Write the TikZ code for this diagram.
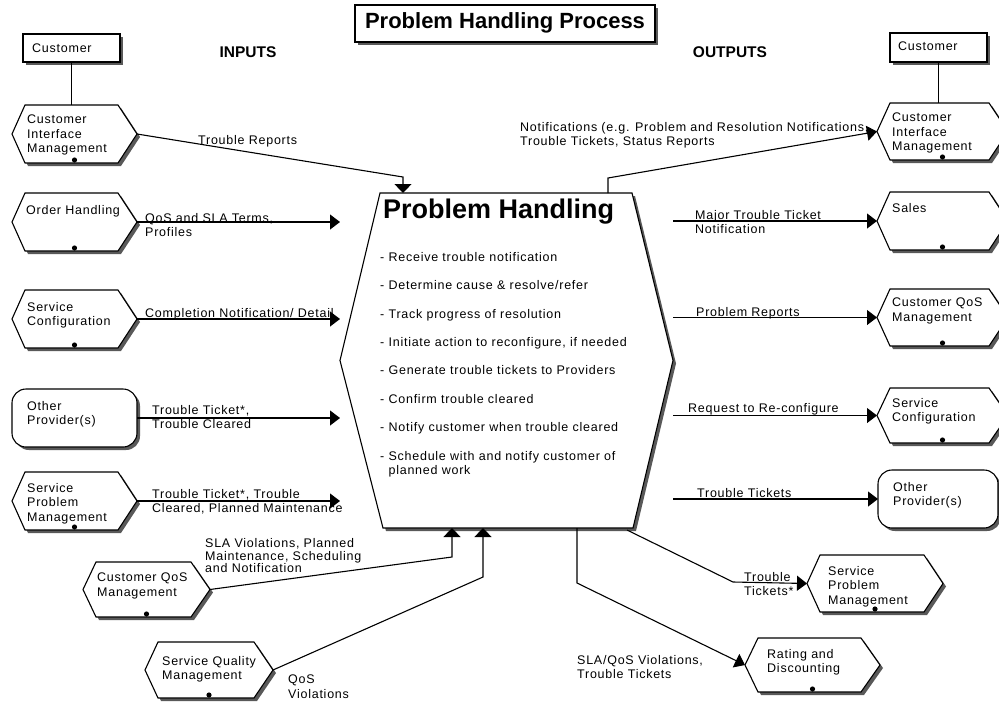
\documentclass[tikz,border=0pt]{standalone}
\usepackage{fontspec}
\setmainfont{Liberation Sans}[LetterSpace=6]
\newfontfamily\hdfont{Liberation Sans}
\usetikzlibrary{arrows.meta}
\tikzset{
  lbl/.style={inner sep=0pt, anchor=north west, align=left, font=\fontsize{12.5}{14.5}\selectfont},
  shp/.style={draw=none, inner sep=0pt, outer sep=0pt, rectangle},
  conn/.style={line width=1.1pt},
  arr/.style={line width=1.1pt, -{Triangle[length=10pt,width=15pt]}},
  arrv/.style={line width=1.1pt, -{Triangle[length=9pt,width=17pt]}},
  outl/.style={draw=black, line width=1.1pt, fill=white, line join=miter},
  shadowfill/.style={fill=black!65},
}
\newcommand\hexbox[8]{%
  \node[shp, minimum width={#4-#2}, minimum height={#5-#3}] (#1) at ({(#2+#4)/2},{(#3+#5)/2}) {};
  \fill[shadowfill] ([shift={(3,3)}]#1.west) -- ([shift={(16,3)}]#1.north west) -- ([shift={(-16,3)}]#1.north east) -- ([shift={(3,3)}]#1.east) -- ([shift={(-16,3)}]#1.south east) -- ([shift={(16,3)}]#1.south west) -- cycle;
  \draw[outl] (#1.west) -- ([xshift=13pt]#1.north west) -- ([xshift=-19pt]#1.north east) -- (#1.east) -- ([xshift=-19pt]#1.south east) -- ([xshift=13pt]#1.south west) -- cycle;
  \node[lbl] (#1-t) at ([shift={(#6,#7)}]#1.north west) {#8};
  \fill ([yshift=3pt]#1.south) circle (2.6);
}
\newcommand\rndbox[8]{%
  \node[shp, minimum width={#4-#2}, minimum height={#5-#3}] (#1) at ({(#2+#4)/2},{(#3+#5)/2}) {};
  \fill[shadowfill, rounded corners=14pt] ([shift={(3,3)}]#1.north west) rectangle ([shift={(3,3)}]#1.south east);
  \draw[outl, rounded corners=14pt] (#1.north west) rectangle (#1.south east);
  \node[lbl] (#1-t) at ([shift={(#6,#7)}]#1.north west) {#8};
}
\newcommand\custbox[8]{%
  \node[shp, minimum width={#4-#2}, minimum height={#5-#3}] (#1) at ({(#2+#4)/2},{(#3+#5)/2}) {};
  \fill[shadowfill] ([shift={(3,3)}]#1.north west) rectangle ([shift={(3,3)}]#1.south east);
  \draw[outl] (#1.north west) rectangle (#1.south east);
  \node[lbl] (#1-t) at ([shift={(#6,#7)}]#1.north west) {#8};
}
\begin{document}
\begin{tikzpicture}[x=1pt,y=-1pt]
\useasboundingbox (0,0) rectangle (999,702);
\clip (0,0) rectangle (999,702);
\fill[white] (0,0) rectangle (999,702);

% title
\node[shp, minimum width=300, minimum height=37] (title) at (505,23.5) {};
\fill[shadowfill] ([shift={(3,3)}]title.north west) rectangle ([shift={(3,3)}]title.south east);
\draw[outl] (title.north west) rectangle (title.south east);
\node[font=\hdfont\bfseries\fontsize{22}{26}\selectfont, inner sep=0pt] (titlet) at ([yshift=1pt]title.center) {Problem Handling Process};

\node[font=\hdfont\bfseries\fontsize{15.5}{18}\selectfont, inner sep=0pt] (inputs) at (248,52) {INPUTS};
\node[font=\hdfont\bfseries\fontsize{15.5}{18}\selectfont, inner sep=0pt] (outputs) at (730,52) {OUTPUTS};

% customer boxes
\custbox{custL}{23}{34}{120}{62}{9}{10}{Customer}
\custbox{custR}{890}{33}{987}{62}{8}{9}{Customer}

% left boxes
\hexbox{cimL}{12}{105}{137}{163}{15}{10}{Customer\\Interface\\Management}
\hexbox{ohL}{12}{193}{137}{251}{14}{12}{Order Handling}
\hexbox{scL}{12}{290}{137}{348}{15}{12}{Service\\Configuration}
\rndbox{opL}{12}{389}{137}{447}{15}{12}{Other\\Provider(s)}
\hexbox{spmL}{12}{472}{137}{530}{15}{11}{Service\\Problem\\Management}
\hexbox{cqL}{83}{562}{210}{617}{14}{11}{Customer QoS\\Management}
\hexbox{sqm}{145}{642}{273}{698}{17}{14}{Service Quality\\Management}

% right boxes
\hexbox{cimR}{877}{103}{1008}{160}{15}{10}{Customer\\Interface\\Management}
\hexbox{salesR}{877}{192}{1008}{250}{15}{11}{Sales}
\hexbox{cqR}{877}{289}{1008}{346}{15}{9}{Customer QoS\\Management}
\hexbox{scR}{877}{388}{1008}{443}{15}{10}{Service\\Configuration}
\rndbox{opR}{878}{470}{998}{528}{15}{12}{Other\\Provider(s)}
\hexbox{spmR}{807}{555}{943}{612}{21}{11}{Service\\Problem\\Management}
\hexbox{rd}{745}{638}{880}{692}{22}{11}{Rating and\\Discounting}

% central process
\node[shp, minimum width=333, minimum height=335] (ph) at (506.5,360.5) {};
\fill[shadowfill] ([shift={(3,3)}]ph.west) -- ([shift={(43,3)}]ph.north west) -- ([shift={(-38,3)}]ph.north east) -- ([shift={(3,3)}]ph.east) -- ([shift={(-37,3)}]ph.south east) -- ([shift={(46,3)}]ph.south west) -- cycle;
\draw[outl] (ph.west) -- ([xshift=40pt]ph.north west) -- ([xshift=-41pt]ph.north east) -- (ph.east) -- ([xshift=-40pt]ph.south east) -- ([xshift=43pt]ph.south west) -- cycle;
\node[font=\hdfont\bfseries\fontsize{27}{30}\selectfont, inner sep=0pt, anchor=north west] (pht) at (383,199) {Problem Handling};
\node[lbl, font=\fontsize{12.5}{14.5}\selectfont] (phl) at (380,252) {%
- Receive trouble notification\\[13.9pt]
- Determine cause \& resolve/refer\\[13.9pt]
- Track progress of resolution\\[13.9pt]
- Initiate action to reconfigure, if needed\\[13.9pt]
- Generate trouble tickets to Providers\\[13.9pt]
- Confirm trouble cleared\\[13.9pt]
- Notify customer when trouble cleared\\[13.9pt]
- Schedule with and notify customer of\\
\phantom{- }planned work};

% connector points
\coordinate (trB) at (403,177); \coordinate (trI) at (403,193);
\coordinate (ntO) at (608,193); \coordinate (ntB) at (608,178);
\coordinate (cqB) at (452,557); \coordinate (cqI) at (452,528);
\coordinate (sqB) at (483,577); \coordinate (sqI) at (483,528);
\coordinate (spO) at (627,530); \coordinate (spB) at (733,582);
\coordinate (rdO) at (577,528); \coordinate (rdB) at (577,583);

% customer links
\draw[conn] (custL.south) -- (custL.south |- cimL.north);
\draw[conn] (custR.south) -- (custR.south |- cimR.north);

% inputs
\draw[arrv] (cimL.east) -- (trB) -- (trI);
\draw[arr] (ohL.east) -- (ohL.east -| ph.west);
\draw[arr] (scL.east) -- (scL.east -| ph.west);
\draw[arr] (opL.east) -- (opL.east -| ph.west);
\draw[arr] (spmL.east) -- (spmL.east -| ph.west);
\draw[arrv] (cqL.east) -- (cqB) -- (cqI);
\draw[arrv] (sqm.east) -- (sqB) -- (sqI);

% outputs
\draw[arr] (ntO) -- (ntB) -- (cimR.west);
\draw[arr] (ph.east |- salesR.west) -- (salesR.west);
\draw[arr] (ph.east |- cqR.west) -- (cqR.west);
\draw[arr] (ph.east |- scR.west) -- (scR.west);
\draw[arr] (ph.east |- opR.west) -- (opR.west);
\draw[arr] (spO) -- (spB) -- (spmR.west);
\draw[arr] (rdO) -- (rdB) -- (rd.west);

% labels
\node[lbl] (l1) at (198,135) {Trouble Reports};
\node[lbl] (l2) at (145,213) {QoS and SLA Terms,\\Profiles};
\node[lbl] (l3) at (145,308) {Completion Notification/ Detail};
\node[lbl] (l4) at (152,405) {Trouble Ticket*,\\Trouble Cleared};
\node[lbl] (l5) at (152,489) {Trouble Ticket*, Trouble\\Cleared, Planned Maintenance};
\node[lbl, font=\fontsize{12.5}{12.8}\selectfont] (l6) at (205,538) {SLA Violations, Planned\\Maintenance, Scheduling\\and Notification};
\node[lbl] (l7) at (288,675) {QoS\\Violations};
\node[lbl] (r1) at (520,122) {Notifications (e.g. Problem and Resolution Notifications,\\Trouble Tickets, Status Reports};
\node[lbl] (r2) at (695,210) {Major Trouble Ticket\\Notification};
\node[lbl] (r3) at (696,307) {Problem Reports};
\node[lbl] (r4) at (688,403) {Request to Re-configure};
\node[lbl] (r5) at (697,488) {Trouble Tickets};
\node[lbl] (r6) at (744,572) {Trouble\\Tickets*};
\node[lbl] (r7) at (577,655) {SLA/QoS Violations,\\Trouble Tickets};
\end{tikzpicture}
\end{document}
